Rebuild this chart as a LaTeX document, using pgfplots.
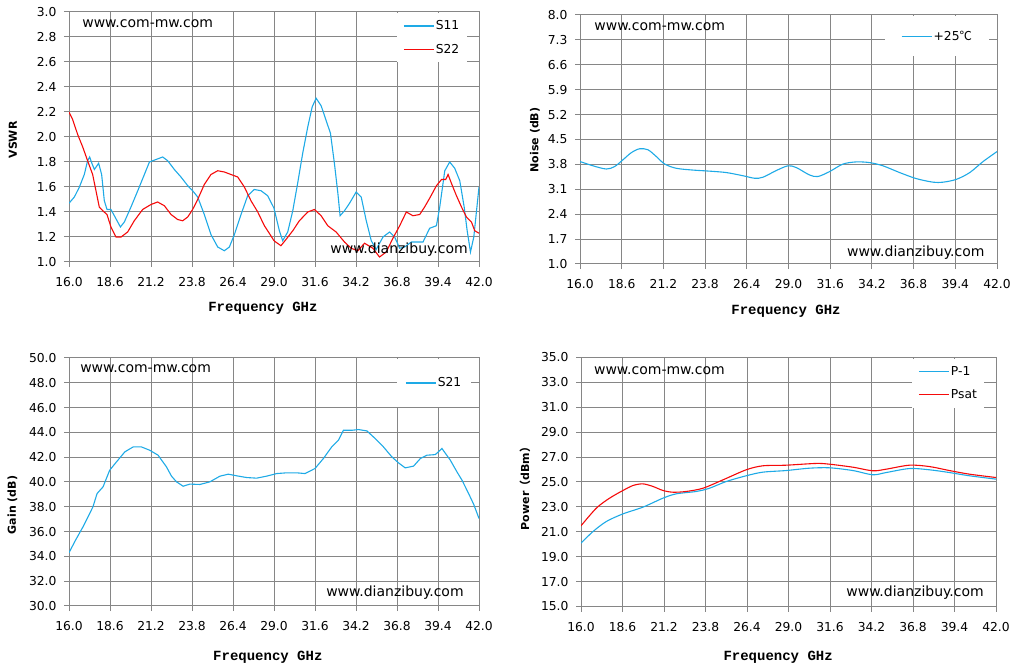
\documentclass[border=0pt]{standalone}
\usepackage{pgfplots}
\pgfplotsset{compat=1.18}
\usepackage{fontspec}
\setmainfont{DejaVu Sans}
\newfontfamily\cjk{Noto Sans CJK SC}
\newfontfamily\labfont{Liberation Mono}
\definecolor{sblue}{RGB}{30,170,230}
\definecolor{sred}{RGB}{245,10,10}
\definecolor{gridc}{RGB}{134,134,134}
\tikzset{wm/.style={anchor=west, inner sep=0pt, font=\fontsize{14}{16}\selectfont}}
\pgfplotsset{
  panel/.style={
    scale only axis, anchor=south west,
    xmin=16, xmax=42,
    xtick={16,18.6,21.2,23.8,26.4,29,31.6,34.2,36.8,39.4,42},
    grid=major,
    major grid style={gridc, line width=1pt},
    axis line style={gridc, line width=1pt},
    tick style={gridc, line width=1pt},
    tick align=outside, major tick length=5pt,
    tick pos=left,
    /pgf/number format/fixed,
    /pgf/number format/fixed zerofill,
    /pgf/number format/precision=1,
    /pgf/number format/assume math mode=true,
    ticklabel style={font=\fontsize{12.3}{14}\selectfont},
    xticklabel style={yshift=-7pt},
    yticklabel style={xshift=-4pt},
    xlabel={\labfont\bfseries Frequency GHz},
    xlabel style={font=\fontsize{14}{16}\selectfont, anchor=center},
    ylabel style={font=\bfseries\fontsize{11}{13}\selectfont, anchor=center},
    legend cell align=left,
    legend style={draw=none, fill=white, font=\fontsize{12.3}{14}\selectfont, anchor=north west,
      inner xsep=6pt, inner ysep=6pt, row sep=10pt, nodes={inner sep=1.5pt}},
    legend image code/.code={\draw[#1] (0pt,0pt) -- (30pt,0pt);},
    every axis plot/.append style={line width=1.1pt},
  },
}
\begin{document}
\begin{tikzpicture}
\path[use as bounding box] (0pt,0pt) rectangle (1016pt,671pt);

% ---------- VSWR ----------
\begin{axis}[panel, at={(69pt,409pt)}, width=410pt, height=250pt,
  ymin=1, ymax=3, ytick={1,1.2,...,3.01},
  ylabel={VSWR},
  xlabel style={at={(axis description cs:0.473,-0.184)}},
  ylabel style={at={(axis description cs:-0.137,0.488)}},
  legend style={at={(rel axis cs:0.8,0.996)}}]
\addplot[sblue] coordinates {
(16.0,1.47)(16.34,1.52)(16.66,1.60)(16.97,1.70)(17.18,1.81)(17.31,1.84)(17.45,1.79)(17.61,1.74)(17.88,1.79)(18.07,1.70)(18.24,1.49)(18.41,1.42)(18.66,1.42)(18.92,1.36)(19.26,1.28)(19.51,1.32)(19.93,1.44)(20.36,1.57)(20.78,1.70)(21.10,1.80)(21.52,1.82)(21.94,1.84)(22.26,1.81)(22.68,1.74)(23.10,1.68)(23.53,1.61)(23.84,1.57)(24.16,1.52)(24.58,1.38)(25.00,1.22)(25.43,1.12)(25.85,1.09)(26.17,1.12)(26.49,1.22)(26.91,1.38)(27.33,1.53)(27.75,1.58)(28.18,1.57)(28.60,1.53)(29.0,1.43)(29.34,1.25)(29.55,1.17)(29.87,1.24)(30.19,1.41)(30.50,1.63)(30.82,1.87)(31.14,2.08)(31.42,2.24)(31.67,2.31)(31.99,2.25)(32.31,2.13)(32.58,2.03)(32.83,1.79)(33.05,1.55)(33.19,1.37)(33.47,1.41)(33.79,1.47)(34.21,1.56)(34.53,1.52)(34.85,1.33)(35.17,1.17)(35.48,1.10)(35.91,1.20)(36.33,1.24)(36.65,1.20)(36.97,1.11)(37.28,1.12)(37.71,1.16)(38.13,1.16)(38.45,1.16)(38.87,1.27)(39.30,1.29)(39.51,1.44)(39.83,1.73)(40.14,1.80)(40.46,1.75)(40.78,1.65)(41.06,1.44)(41.25,1.25)(41.46,1.08)(41.67,1.20)(42.0,1.60)
};
\addlegendentry{S11}
\addplot[sred] coordinates {
(16.0,2.20)(16.23,2.14)(16.55,2.02)(16.87,1.92)(17.18,1.81)(17.50,1.70)(17.71,1.57)(17.92,1.44)(18.14,1.41)(18.41,1.38)(18.66,1.28)(18.98,1.20)(19.30,1.20)(19.72,1.24)(20.14,1.33)(20.67,1.42)(21.20,1.46)(21.62,1.48)(22.05,1.45)(22.47,1.38)(22.89,1.34)(23.21,1.33)(23.53,1.36)(23.84,1.42)(24.16,1.50)(24.58,1.62)(25.00,1.70)(25.43,1.73)(25.85,1.72)(26.27,1.70)(26.70,1.68)(27.12,1.60)(27.54,1.49)(27.97,1.40)(28.39,1.29)(28.70,1.23)(29.0,1.17)(29.44,1.13)(29.76,1.18)(30.19,1.25)(30.61,1.33)(31.14,1.40)(31.56,1.42)(31.99,1.37)(32.41,1.29)(32.94,1.24)(33.47,1.16)(33.89,1.11)(34.32,1.09)(34.74,1.15)(35.27,1.11)(35.69,1.04)(36.12,1.08)(36.54,1.19)(36.97,1.29)(37.39,1.40)(37.81,1.37)(38.24,1.38)(38.55,1.44)(38.87,1.51)(39.30,1.61)(39.62,1.66)(39.89,1.66)(40.04,1.70)(40.25,1.63)(40.57,1.53)(40.89,1.44)(41.20,1.36)(41.52,1.32)(41.73,1.25)(42.0,1.23)
};
\addlegendentry{S22}
\node[wm] at (rel axis cs:0.032,0.952) {www.com-mw.com};
\node[wm] at (rel axis cs:0.637,0.048) {www.dianzibuy.com};
\end{axis}

% ---------- Noise ----------
\begin{axis}[panel, at={(580pt,407pt)}, width=417pt, height=249pt,
  ymin=1, ymax=8, ytick={1,1.7,2.4,3.1,3.8,4.5,5.2,5.9,6.6,7.3,8},
  ylabel={Noise (dB)},
  xlabel style={at={(axis description cs:0.494,-0.189)}},
  ylabel style={at={(axis description cs:-0.108,0.498)}},
  legend style={at={(rel axis cs:0.731,0.996)}, inner xsep=16pt, inner ysep=13pt}]
\addplot[sblue, smooth] coordinates {
(16.0,3.88)(16.81,3.76)(17.64,3.67)(18.16,3.74)(18.68,3.93)(19.20,4.13)(19.72,4.24)(20.24,4.21)(20.76,4.02)(21.28,3.81)(22.01,3.69)(23.05,3.64)(24.09,3.61)(25.13,3.57)(26.17,3.48)(26.89,3.41)(27.41,3.44)(28.25,3.63)(28.97,3.76)(29.49,3.71)(30.32,3.50)(30.84,3.46)(31.57,3.60)(32.40,3.81)(33.23,3.87)(34.06,3.85)(34.89,3.76)(35.93,3.57)(36.97,3.40)(38.01,3.30)(38.64,3.30)(39.47,3.38)(40.30,3.57)(41.13,3.88)(42.0,4.16)
};
\addlegendentry{+25{\cjk ℃}}
\node[wm] at (rel axis cs:0.034,0.952) {www.com-mw.com};
\node[wm] at (rel axis cs:0.640,0.044) {www.dianzibuy.com};
\end{axis}

% ---------- Gain ----------
\begin{axis}[panel, at={(69pt,65pt)}, width=410pt, height=248pt,
  ymin=30, ymax=50, ytick={30,32,...,50},
  ylabel={Gain (dB)},
  xlabel style={at={(axis description cs:0.485,-0.206)}},
  ylabel style={at={(axis description cs:-0.138,0.407)}},
  legend style={at={(rel axis cs:0.8,0.996)}, inner xsep=8pt, inner ysep=17pt}]
\addplot[sblue] coordinates {
(16.0,34.30)(16.42,35.32)(16.89,36.39)(17.31,37.46)(17.52,38.00)(17.78,39.07)(18.16,39.61)(18.58,40.95)(19.01,41.62)(19.54,42.43)(20.07,42.83)(20.59,42.83)(21.12,42.56)(21.65,42.16)(22.18,41.22)(22.50,40.47)(22.82,40.01)(23.24,39.66)(23.66,39.83)(24.30,39.80)(24.93,40.01)(25.57,40.47)(26.10,40.63)(26.63,40.50)(27.26,40.36)(27.90,40.31)(28.53,40.47)(29.17,40.68)(29.80,40.74)(30.44,40.74)(30.97,40.68)(31.60,41.09)(32.13,41.89)(32.66,42.83)(33.09,43.37)(33.40,44.17)(33.93,44.17)(34.36,44.23)(34.89,44.12)(35.42,43.50)(35.94,42.83)(36.47,42.03)(36.90,41.54)(37.32,41.14)(37.85,41.28)(38.28,41.89)(38.70,42.16)(39.23,42.21)(39.65,42.70)(40.18,41.76)(40.60,40.82)(40.92,40.15)(41.34,39.07)(41.66,38.21)(42.0,37.06)
};
\addlegendentry{S21}
\node[wm] at (rel axis cs:0.027,0.956) {www.com-mw.com};
\node[wm] at (rel axis cs:0.627,0.052) {www.dianzibuy.com};
\end{axis}

% ---------- Power ----------
\begin{axis}[panel, at={(581pt,64.5pt)}, width=415pt, height=249pt,
  ymin=15, ymax=35, ytick={15,17,...,35},
  ylabel={Power{\cjk （}dBm{\cjk ）}},
  xlabel style={at={(axis description cs:0.475,-0.203)}},
  ylabel style={at={(axis description cs:-0.135,0.484)}},
  legend style={at={(rel axis cs:0.798,0.996)}}]
\addplot[sblue, smooth] coordinates {
(16.0,20.09)(16.75,21.02)(17.59,21.83)(18.63,22.44)(19.88,22.98)(21.13,23.70)(21.97,24.05)(23.22,24.24)(24.05,24.50)(25.10,25.04)(26.35,25.50)(27.39,25.79)(28.85,25.92)(30.32,26.11)(31.57,26.14)(33.03,25.92)(34.28,25.58)(35.12,25.76)(36.58,26.08)(37.83,25.98)(39.08,25.76)(40.33,25.50)(42.0,25.23)
};
\addlegendentry{P-1}
\addplot[sred, smooth] coordinates {
(16.0,21.48)(16.96,22.90)(17.79,23.70)(18.63,24.32)(19.26,24.72)(19.88,24.85)(20.51,24.64)(21.13,24.32)(21.76,24.18)(22.59,24.24)(23.64,24.50)(24.89,25.17)(26.35,25.98)(27.39,26.30)(28.85,26.35)(30.73,26.49)(31.57,26.43)(33.03,26.19)(34.28,25.90)(35.12,26.03)(36.58,26.35)(37.83,26.24)(39.08,25.92)(40.33,25.63)(42.0,25.36)
};
\addlegendentry{Psat}
\node[wm] at (rel axis cs:0.031,0.946) {www.com-mw.com};
\node[wm] at (rel axis cs:0.639,0.054) {www.dianzibuy.com};
\end{axis}
\end{tikzpicture}
\end{document}
